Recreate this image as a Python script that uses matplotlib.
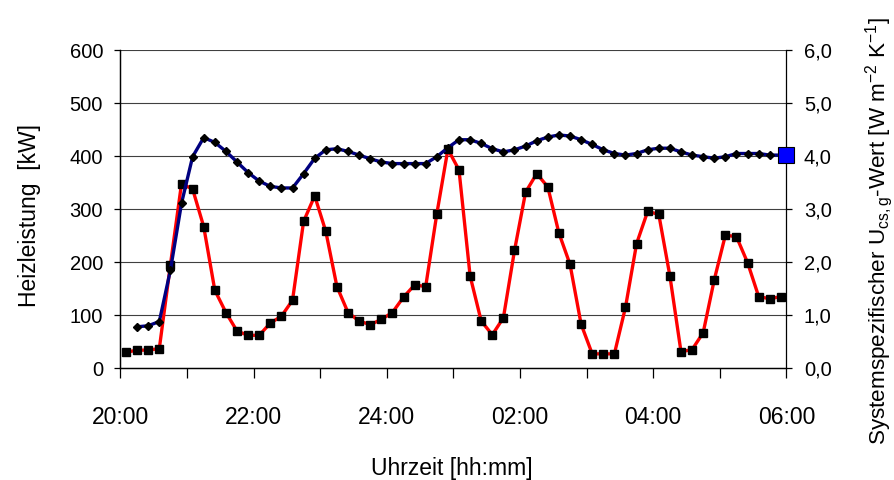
import matplotlib
matplotlib.use("Agg")
import matplotlib.pyplot as plt
from matplotlib.ticker import FixedLocator, FuncFormatter

plt.rcParams['font.family'] = ['Liberation Sans', 'DejaVu Sans']
plt.rcParams['mathtext.fontset'] = 'custom'
plt.rcParams['mathtext.rm'] = 'Liberation Sans'
plt.rcParams['mathtext.it'] = 'Liberation Sans'

# sample times (10 min values, night 20:00 -> 06:00)
red_times = [
    "20:05", "20:15", "20:25", "20:35", "20:45", "20:55",
    "21:05", "21:15", "21:25", "21:35", "21:45", "21:55",
    "22:05", "22:15", "22:25", "22:35", "22:45", "22:55",
    "23:05", "23:15", "23:25", "23:35", "23:45", "23:55",
    "00:05", "00:15", "00:25", "00:35", "00:45", "00:55",
    "01:05", "01:15", "01:25", "01:35", "01:45", "01:55",
    "02:05", "02:15", "02:25", "02:35", "02:45", "02:55",
    "03:05", "03:15", "03:25", "03:35", "03:45", "03:55",
    "04:05", "04:15", "04:25", "04:35", "04:45", "04:55",
    "05:05", "05:15", "05:25", "05:35", "05:45", "05:55",
]
# Heizleistung [kW]
heizleistung = [
    30, 34, 34, 37, 195, 348, 338, 267, 147, 105,
    70, 62, 62, 85, 98, 128, 277, 325, 258, 154,
    105, 89, 82, 92, 105, 134, 157, 154, 291, 413,
    374, 174, 89, 63, 95, 222, 332, 367, 342, 255,
    196, 83, 27, 27, 27, 115, 235, 296, 290, 174,
    31, 35, 67, 167, 251, 248, 199, 135, 131, 135,
]

blue_times = red_times[1:-1] + ["06:00"]
# U-Wert [W m-2 K-1]
u_wert = [
    0.78, 0.80, 0.88, 1.85, 3.11, 3.99, 4.35, 4.26, 4.09, 3.89,
    3.69, 3.53, 3.43, 3.40, 3.40, 3.67, 3.96, 4.12, 4.14,
    4.09, 4.02, 3.95, 3.89, 3.86, 3.86, 3.86, 3.86, 3.99, 4.16,
    4.31, 4.31, 4.24, 4.14, 4.08, 4.12, 4.19, 4.29, 4.36, 4.40,
    4.38, 4.31, 4.22, 4.12, 4.05, 4.02, 4.05, 4.12, 4.15, 4.15,
    4.08, 4.02, 3.99, 3.96, 3.99, 4.05, 4.05, 4.05, 4.02,
    4.02,
]

hour_ticks = [20, 21, 22, 23, 24, 1, 2, 3, 4, 5, 6]
hour_labels = ["20:00", "", "22:00", "", "24:00", "", "02:00", "", "04:00", "", "06:00"]


def to_hours(t):
    # hours since 20:00
    h, m = t.split(":")
    h = int(h)
    if h < 20:
        h += 24
    return h - 20 + int(m) / 60


def hour_pos(h):
    return h - 20 if h >= 20 else h + 4


x_red = [to_hours(t) for t in red_times]
x_blue = [to_hours(t) for t in blue_times]

fig = plt.figure(figsize=(8.95, 4.8), dpi=100)
ax = fig.add_axes([0.1346, 0.2330, 0.7441, 0.6625])
ax2 = ax.twinx()

ax.plot(x_red, heizleistung, color='#ff0000', lw=2.4, marker='s', ms=5.2,
        mfc='black', mec='black', zorder=3)
ax2.plot(x_blue, u_wert, color='#000080', lw=2.4, marker='D', ms=4.4,
         mfc='black', mec='black', zorder=3)
ax2.plot(x_blue[-1], u_wert[-1], marker='s', ms=12, mfc='#0000ff',
         mec='black', mew=0.8, clip_on=False, zorder=4)

ax.set_xlim(0, 10)
ax.set_ylim(0, 600)
ax2.set_ylim(0, 6)

ax.xaxis.set_major_locator(FixedLocator([hour_pos(h) for h in hour_ticks]))
ax.set_xticklabels(hour_labels)
ax.set_yticks([0, 100, 200, 300, 400, 500, 600])
ax2.set_yticks([0, 1, 2, 3, 4, 5, 6])
ax2.yaxis.set_major_formatter(FuncFormatter(lambda v, p: f"{v:.1f}".replace(".", ",")))

for y in [100, 200, 300, 400, 500, 600]:
    ax.axhline(y, color='#404040', lw=0.8, zorder=1)

for a in (ax, ax2):
    a.spines['top'].set_visible(False)
    for s in a.spines.values():
        s.set_linewidth(0.9)
ax.spines['right'].set_visible(False)

ax.tick_params(axis='x', direction='out', length=7.2, width=0.9, pad=20, labelsize=16.5)
ax.tick_params(axis='y', direction='out', length=4.5, width=0.9, pad=8, labelsize=14.5)
ax2.tick_params(axis='y', direction='out', length=4.5, width=0.9, pad=8, labelsize=14.5)

ax.set_xlabel("Uhrzeit [hh:mm]", fontsize=16.5)
ax.xaxis.set_label_coords(0.497, -0.316)
ax.xaxis.label.set_va('center')

ax.set_ylabel("Heizleistung  [kW]", fontsize=16.5)
ax.yaxis.set_label_coords(-0.136, 0.481)
ax.yaxis.label.set_va('center')

ax2.set_ylabel(r"Systemspezifischer U$_{\mathregular{cs,g}}$-Wert [W m$^{\mathregular{-2}}$ K$^{\mathregular{-1}}$]",
               fontsize=16.2)
ax2.yaxis.set_label_coords(1.139, 0.432)
ax2.yaxis.label.set_va('center')

fig.savefig("out.png", dpi=100)
